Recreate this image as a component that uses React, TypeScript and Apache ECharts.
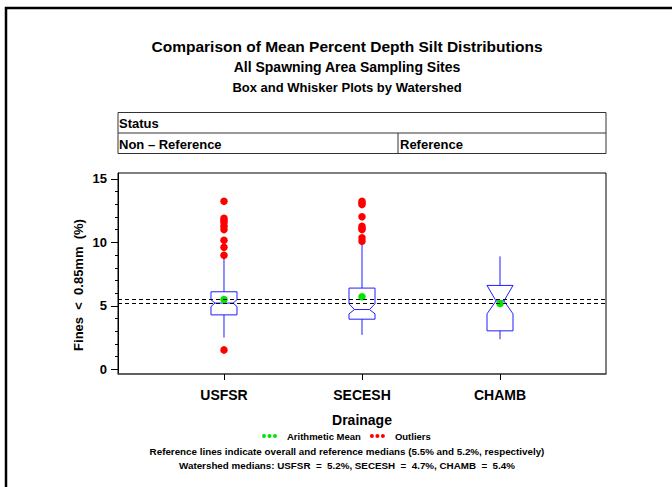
import React, { useEffect, useRef } from 'react';
import * as echarts from 'echarts';

// ---- data ----
const categories = ['USFSR', 'SECESH', 'CHAMB'];
const whiskerLow = [2.5, 2.71, 2.37];
const q1 = [4.29, 3.95, 3.03];
const notchLow = [4.95, 4.37, 4.37];
const medians = [5.22, 4.71, 5.39];
const notchHigh = [5.48, 5.16, 6.61];
const q3 = [6.11, 6.4, 6.61];
const whiskerHigh = [8.7, 9.83, 8.9];
const means = [5.5, 5.72, 5.19];
const outliersUSFSR = [13.25, 11.9, 11.72, 11.54, 11.27, 11.01, 10.17, 9.61, 8.98, 1.53];
const outliersSECESH = [13.25, 13.1, 12.99, 12.02, 11.27, 11.1, 11.01, 10.36, 10.09];
const outliersCHAMB: number[] = [];
const referenceLines = [5.5, 5.2];
const yTickValues = [0, 5, 10, 15];
const yMinorTickValues = [1, 2, 3, 4, 6, 7, 8, 9, 11, 12, 13, 14];
const xTickValues = [0, 1, 2];

// ---- styles ----
const FONT = "'Liberation Sans', Arial, Helvetica, sans-serif";
const BLUE = '#1f1fff';
const RED = '#ff0000';
const GREEN = '#00e600';
const BOX_HALF_WIDTH = 13;
const notchInsetPx = [4, 5.5, 9];
const DOTS_ICON =
  'path://M0 2a2 2 0 1 0 4 0a2 2 0 1 0 -4 0Z M5.5 2a2 2 0 1 0 4 0a2 2 0 1 0 -4 0Z M11 2a2 2 0 1 0 4 0a2 2 0 1 0 -4 0Z';

const txt = (text: string, x: number, y: number, size: number, align = 'center', extra: any = {}) => ({
  type: 'text',
  x,
  y,
  silent: true,
  ...extra,
  style: {
    text,
    fill: '#000',
    font: `bold ${size}px ${FONT}`,
    align,
    verticalAlign: 'middle',
  },
});

export default function App() {
  const ref = useRef<HTMLDivElement>(null);

  useEffect(() => {
    if (!ref.current) return;
    const chart = echarts.init(ref.current, null, { renderer: 'svg' });

    const outlierData: number[][] = [];
    [outliersUSFSR, outliersSECESH, outliersCHAMB].forEach((arr, i) =>
      arr.forEach((v) => outlierData.push([i, v]))
    );

    const boxData = categories.map((_, i) => [
      i,
      whiskerLow[i],
      q1[i],
      notchLow[i],
      medians[i],
      notchHigh[i],
      q3[i],
      whiskerHigh[i],
    ]);

    const renderBox = (params: any, api: any) => {
      const i = api.value(0);
      const c = (v: number) => api.coord([i, v]);
      const cx = c(api.value(1))[0];
      const yLo = c(api.value(1))[1];
      const yQ1 = c(api.value(2))[1];
      const yNLo = c(api.value(3))[1];
      const yMed = c(api.value(4))[1];
      const yNHi = c(api.value(5))[1];
      const yQ3 = c(api.value(6))[1];
      const yHi = c(api.value(7))[1];
      const hw = BOX_HALF_WIDTH;
      const ins = notchInsetPx[i];
      const style = { stroke: BLUE, fill: 'none', lineWidth: 1 };
      return {
        type: 'group',
        children: [
          { type: 'line', shape: { x1: cx, y1: yQ3, x2: cx, y2: yHi }, style },
          { type: 'line', shape: { x1: cx, y1: yQ1, x2: cx, y2: yLo }, style },
          {
            type: 'polygon',
            shape: {
              points: [
                [cx - hw, yQ3],
                [cx + hw, yQ3],
                [cx + hw, yNHi],
                [cx + hw - ins, yMed],
                [cx + hw, yNLo],
                [cx + hw, yQ1],
                [cx - hw, yQ1],
                [cx - hw, yNLo],
                [cx - hw + ins, yMed],
                [cx - hw, yNHi],
              ],
            },
            style,
          },
          {
            type: 'line',
            shape: { x1: cx - hw + ins, y1: yMed, x2: cx + hw - ins, y2: yMed },
            style,
          },
        ],
      };
    };

    const option: any = {
      animation: false,
      backgroundColor: '#fff',
      textStyle: { fontFamily: FONT },
      grid: {
        left: 118,
        right: 66,
        top: 173,
        bottom: 113,
        show: true,
        borderColor: '#000',
        borderWidth: 1,
        backgroundColor: 'transparent',
      },
      xAxis: {
        type: 'value',
        min: -0.768,
        max: 2.768,
        splitLine: { show: false },
        axisLine: { show: true, onZero: false, lineStyle: { color: '#555', width: 1.5 } },
        axisTick: { show: true, customValues: xTickValues, length: 6, lineStyle: { color: '#000' } },
        axisLabel: {
          customValues: xTickValues,
          formatter: (v: number) => categories[Math.round(v)] ?? '',
          color: '#000',
          fontFamily: FONT,
          fontWeight: 'bold',
          fontSize: 14,
          margin: 14,
        },
        name: 'Drainage',
        nameLocation: 'middle',
        nameGap: 39,
        nameTextStyle: { color: '#000', fontFamily: FONT, fontWeight: 'bold', fontSize: 14 },
      },
      yAxis: [
        {
          type: 'value',
          min: -0.37,
          max: 15.47,
          splitLine: { show: false },
          axisLine: { show: true, onZero: false, lineStyle: { color: '#000', width: 1 } },
          axisTick: { show: true, customValues: yTickValues, length: 7, lineStyle: { color: '#000' } },
          axisLabel: {
            customValues: yTickValues,
            color: '#000',
            fontFamily: FONT,
            fontWeight: 'bold',
            fontSize: 13,
            margin: 11,
          },
        },
        {
          type: 'value',
          min: -0.37,
          max: 15.47,
          position: 'left',
          splitLine: { show: false },
          axisLine: { show: false, onZero: false },
          axisLabel: { show: false },
          axisTick: {
            show: true,
            customValues: yMinorTickValues,
            length: 3,
            lineStyle: { color: '#000' },
          },
        },
      ],
      legend: {
        data: ['Arithmetic Mean', 'Outliers'],
        left: 262,
        top: 431,
        padding: 0,
        icon: DOTS_ICON,
        itemWidth: 15,
        itemHeight: 4,
        itemGap: 9,
        selectedMode: false,
        textStyle: {
          color: '#000',
          fontFamily: FONT,
          fontWeight: 'bold',
          fontSize: 9.5,
          padding: [0, 0, 0, 5],
        },
      },
      series: [
        {
          type: 'custom',
          name: 'Box',
          renderItem: renderBox,
          data: boxData,
          encode: { x: 0, y: [1, 2, 3, 4, 5, 6, 7] },
          z: 2,
          silent: true,
        },
        {
          type: 'scatter',
          name: 'Outliers',
          data: outlierData,
          symbolSize: 7.5,
          itemStyle: { color: RED, opacity: 1 },
          z: 3,
          silent: true,
          markLine: {
            silent: true,
            symbol: 'none',
            label: { show: false },
            lineStyle: { color: '#000', type: [4, 3], width: 1 },
            data: referenceLines.map((v) => ({ yAxis: v })),
          },
        },
        {
          type: 'scatter',
          name: 'Arithmetic Mean',
          data: means.map((v, i) => [i, v]),
          symbolSize: 7.5,
          itemStyle: { color: GREEN, opacity: 1 },
          z: 4,
          silent: true,
        },
      ],
      graphic: [
        {
          type: 'rect',
          silent: true,
          shape: { x: 6, y: 8, width: 720, height: 520 },
          style: { fill: 'none', stroke: '#000', lineWidth: 2.5 },
        },
        txt('Comparison of Mean Percent Depth Silt Distributions', 347, 46, 15.5),
        txt('All Spawning Area Sampling Sites', 347, 67, 14),
        txt('Box and Whisker Plots by Watershed', 347, 87, 13),
        {
          type: 'rect',
          silent: true,
          shape: { x: 118, y: 112.5, width: 488, height: 41 },
          style: { fill: 'none', stroke: '#333', lineWidth: 1 },
        },
        {
          type: 'line',
          silent: true,
          shape: { x1: 118, y1: 133, x2: 606, y2: 133 },
          style: { stroke: '#333', lineWidth: 1 },
        },
        {
          type: 'line',
          silent: true,
          shape: { x1: 398, y1: 133, x2: 398, y2: 153.5 },
          style: { stroke: '#333', lineWidth: 1 },
        },
        txt('Status', 119, 123.5, 13, 'left'),
        txt('Non \u2013 Reference', 119, 144, 13, 'left'),
        txt('Reference', 400, 144, 13, 'left'),
        txt('Fines  <  0.85mm  (%)', 78, 285, 13, 'center', { rotation: Math.PI / 2 }),
        txt('Reference lines indicate overall and reference medians (5.5% and 5.2%, respectively)', 347, 451, 9.8),
        txt('Watershed medians: USFSR  =  5.2%, SECESH  =  4.7%, CHAMB  =  5.4%', 347, 465.5, 9.8),
      ],
    };

    chart.setOption(option);
    return () => chart.dispose();
  }, []);

  return (
    <div
      ref={ref}
      style={{ position: 'fixed', left: 0, top: 0, width: 672, height: 487, background: '#fff' }}
    />
  );
}
